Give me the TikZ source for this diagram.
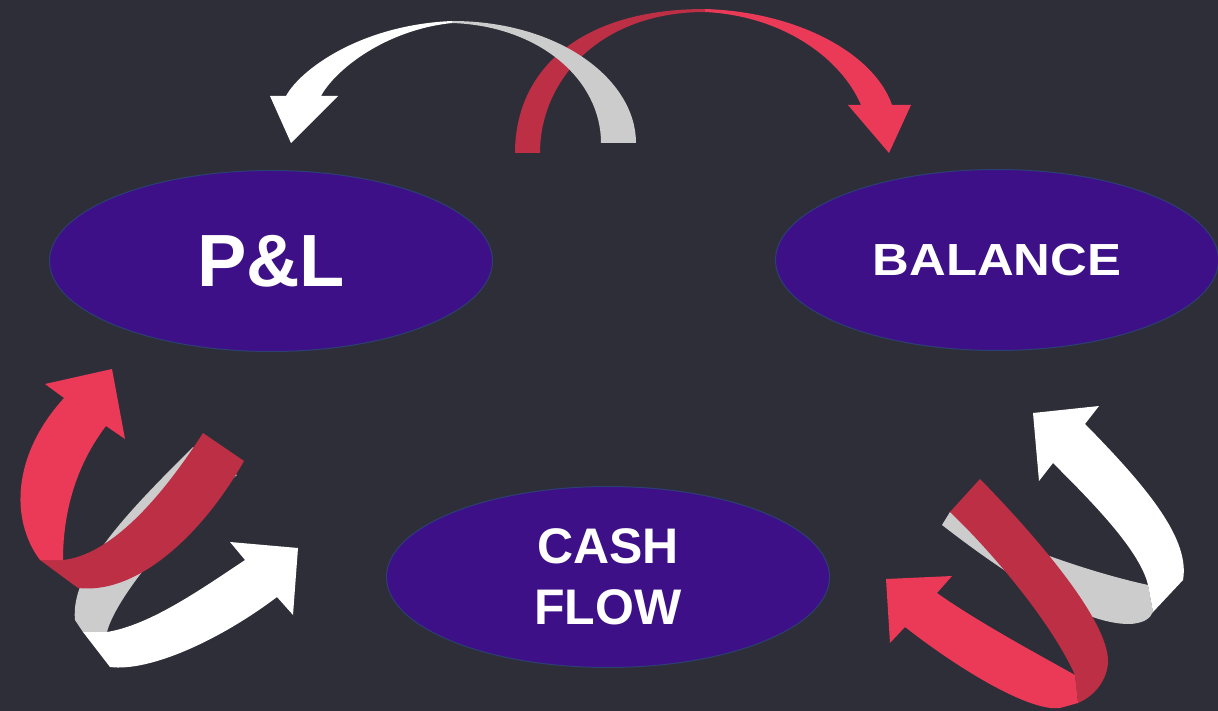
\documentclass[tikz,border=0pt]{standalone}
\usepackage{fontspec}
\setmainfont{Liberation Sans}
\usetikzlibrary{shapes.geometric,calc}
\definecolor{VSlate}{HTML}{2E2E38}
\definecolor{PPurple}{HTML}{3E1087}
\definecolor{BEdge}{HTML}{2C3F72}
\definecolor{RBright}{HTML}{EB3A57}
\definecolor{RDark}{HTML}{BC2F45}
\definecolor{GLight}{HTML}{CCCCCC}
\tikzset{
    statement/.style = {ellipse, draw=BEdge, line width=1pt, fill=PPurple,
        text=white, inner sep=0pt,
        minimum width=443pt, minimum height=181pt}
}
\begin{document}
\begin{tikzpicture}[x=1pt,y=-1pt]
    \useasboundingbox (0,0) rectangle (1218,711);
    \fill[VSlate] (0,0) rectangle (1218,711);
    % statements
    \node[statement, font=\bfseries\fontsize{74}{88}\selectfont] (pl) at (271,261) {P\&L};
    \node[statement, font=\bfseries\fontsize{45}{54}\selectfont] (balance) at (997,260) {\scalebox{1.13}[1]{BALANCE}};
    \node[statement, align=center, font=\bfseries\fontsize{50}{61}\selectfont] (cashflow) at (608,577) {CASH\\FLOW};
    % top arcs
    \fill[RDark] (515,153) .. controls (515,70) and (580,9) .. (705,9)
        -- (705,12) .. controls (600,12) and (540,80) .. (540,153) -- cycle;
    \fill[RBright] (705,9) .. controls (800,12) and (875,55) .. (892,105)
        -- (911,105) -- (889,153) -- (848,105) -- (861,105)
        .. controls (842,60) and (785,16) .. (705,12) -- cycle;
    \fill[white] (452,21) .. controls (360,25) and (300,70) .. (286,96)
        -- (270,96) -- (291,143) -- (338,96) -- (321,96)
        .. controls (335,70) and (385,30) .. (452,23) -- cycle;
    \fill[GLight] (452,21) .. controls (560,21) and (636,80) .. (636,143)
        -- (601,143) .. controls (601,80) and (540,26) .. (452,23) -- cycle;
    % bottom left twist
    \fill[GLight] (193,447) .. controls (130,510) and (70,570) .. (75,620)
        -- (83,632) -- (107,632) .. controls (115,600) and (170,530) .. (237,475) -- cycle;
    \fill[white] (83,632) -- (110,667) .. controls (150,672) and (220,640) .. (277,597)
        -- (293,615) -- (298,548) -- (230,542) -- (245,560)
        .. controls (200,590) and (150,625) .. (107,632) -- cycle;
    \fill[RDark] (40,560) -- (63,560) .. controls (110,555) and (160,500) .. (203,433)
        -- (244,461) .. controls (205,530) and (140,595) .. (78,588) -- cycle;
    \fill[RBright] (40,560) .. controls (10,520) and (12,455) .. (64,398)
        -- (45,384) -- (112,369) -- (125,439) -- (106,426)
        .. controls (80,460) and (63,505) .. (63,560) -- cycle;
    % bottom right twist
    \fill[GLight] (1148,585) .. controls (1080,570) and (1000,540) .. (950,512)
        -- (942,525) .. controls (1000,570) and (1080,625) .. (1130,624)
        .. controls (1145,623) and (1150,618) .. (1153,612) -- cycle;
    \fill[white] (1033,413) -- (1099,406) -- (1085,424)
        .. controls (1150,490) and (1190,540) .. (1183,580) -- (1153,612)
        -- (1148,585) .. controls (1140,550) and (1090,500) .. (1053,463)
        -- (1039,481) -- cycle;
    \fill[RDark] (950,512) -- (980,479) .. controls (1030,530) and (1110,620) .. (1108,663)
        .. controls (1106,685) and (1090,698) .. (1078,703) -- (1075,675)
        .. controls (1050,620) and (990,550) .. (950,512) -- cycle;
    \fill[RBright] (1075,675) .. controls (1030,650) and (975,620) .. (937,593)
        -- (952,576) -- (886,579) -- (890,643) -- (905,627)
        .. controls (960,670) and (1030,712) .. (1060,708) -- (1078,703) -- cycle;
\end{tikzpicture}
\end{document}
